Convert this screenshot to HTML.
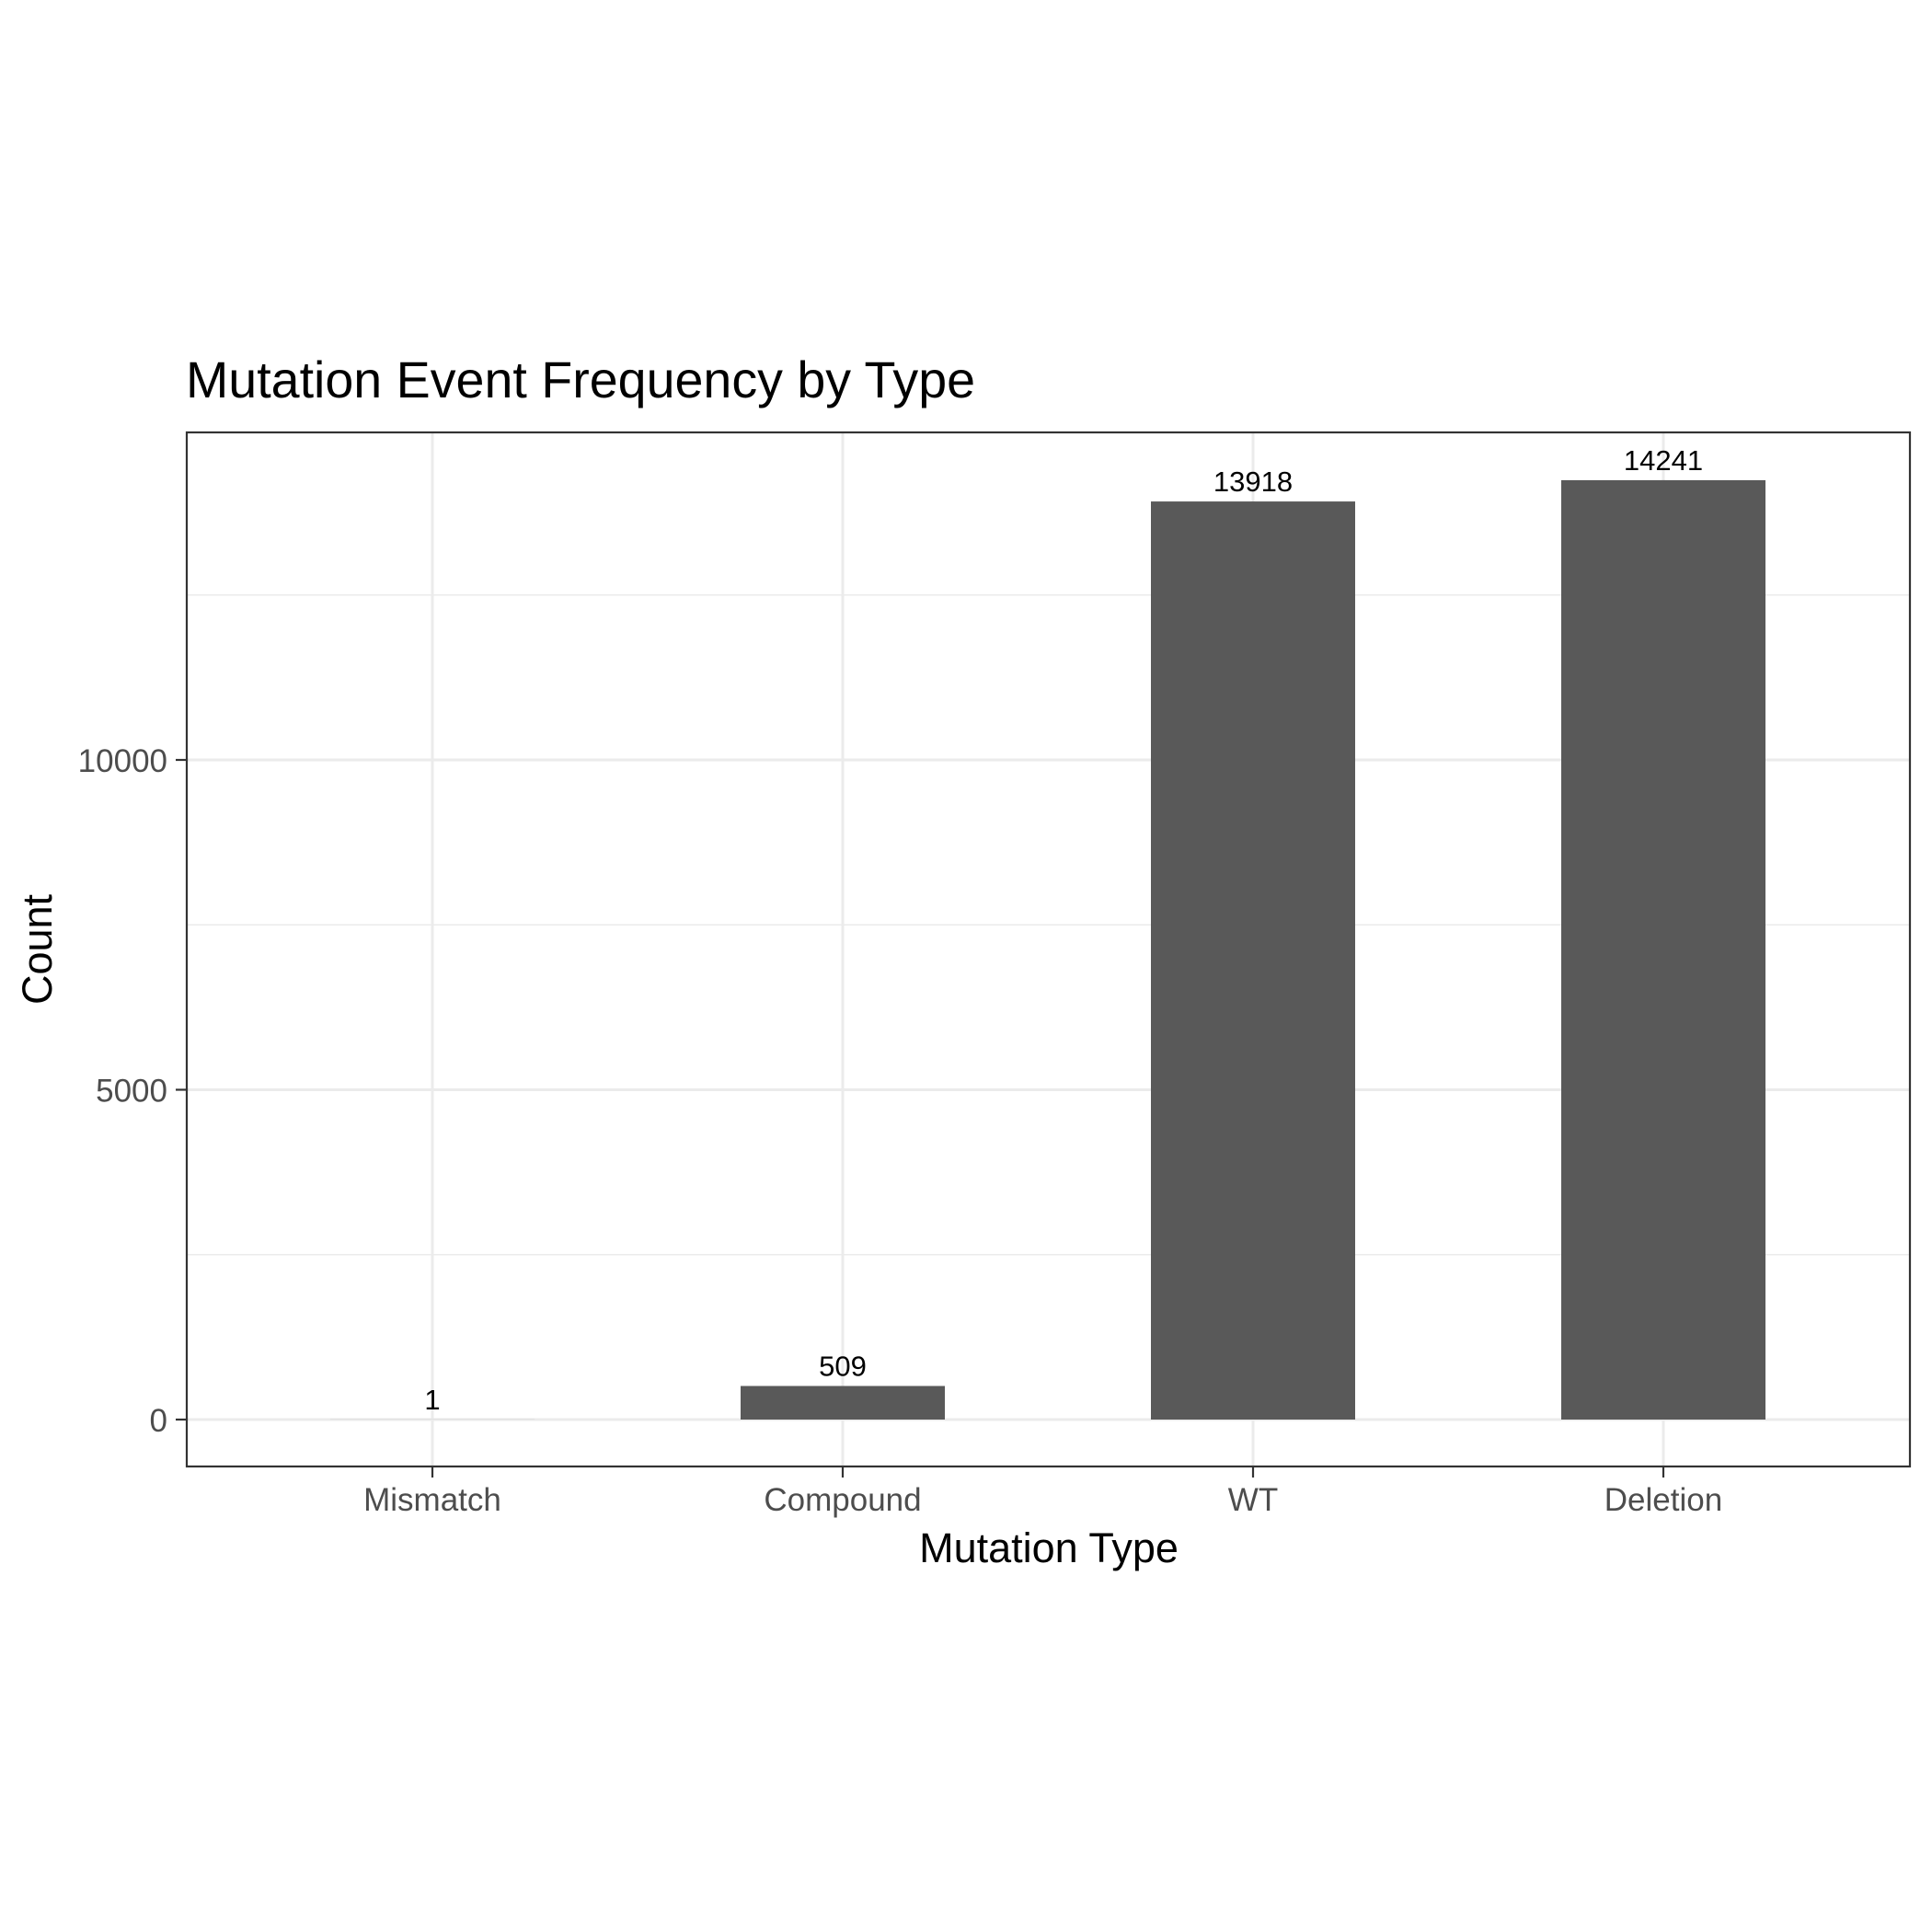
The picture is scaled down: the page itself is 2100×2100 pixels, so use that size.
<!DOCTYPE html>
<html><head><meta charset="utf-8"><style>
html,body{margin:0;padding:0;background:#fff;}
svg{display:block;font-family:"Liberation Sans",sans-serif;}
</style></head><body>
<svg id="chart" width="2100" height="2100" viewBox="0 0 2100 2100">
<rect x="0" y="0" width="2100" height="2100" fill="#fff"/>
<text x="202" y="432" font-size="55.6" fill="#000">Mutation Event Frequency by Type</text>
<g id="grid"></g>
<g id="bars"></g>
<rect x="203" y="470" width="1873" height="1124" fill="none" stroke="#333" stroke-width="2.2"/>
<g id="axes"></g>
<text x="1140" y="1698" font-size="45" text-anchor="middle" fill="#000">Mutation Type</text>
<text transform="translate(56,1032) rotate(-90)" font-size="45" text-anchor="middle" fill="#000">Count</text>
</svg>
<script>
const categories = ["Mismatch","Compound","WT","Deletion"];
const counts = [1, 509, 13918, 14241];
const majorTicks = [0, 5000, 10000];
const minorTicks = [2500, 7500, 12500];

const NS = "http://www.w3.org/2000/svg";
const plotL = 203, plotR = 2076, plotT = 470, plotB = 1594;
const yScale = v => 1543 - v * 0.0717;
const xScale = i => 470 + i * 446;
const barW = 222;

function mk(tag, attrs, parent, text) {
  const e = document.createElementNS(NS, tag);
  for (const k in attrs) e.setAttribute(k, attrs[k]);
  if (text !== undefined) e.textContent = text;
  parent.appendChild(e);
  return e;
}
const grid = document.getElementById("grid");
const bars = document.getElementById("bars");
const axes = document.getElementById("axes");

minorTicks.forEach(t => {
  const l = mk("line", {x1: plotL, x2: plotR, y1: yScale(t), y2: yScale(t), stroke: "#ebebeb", "stroke-width": 1.5}, grid);
  
  
});
majorTicks.forEach(t => {
  const l = mk("line", {x1: plotL, x2: plotR, y1: yScale(t), y2: yScale(t), stroke: "#ebebeb", "stroke-width": 3}, grid);
  
  
  const tk = mk("line", {x1: 191, x2: 203, y1: yScale(t), y2: yScale(t), stroke: "#333", "stroke-width": 2.2}, axes);
  
  
  const tx = mk("text", {x: 182, y: yScale(t) + 13, "font-size": 35, "text-anchor": "end", fill: "#4d4d4d"}, axes, String(t));
  
  
});
categories.forEach((c, i) => {
  const x = xScale(i);
  const g = mk("line", {x1: x, x2: x, y1: plotT, y2: plotB, stroke: "#ebebeb", "stroke-width": 3}, grid);
  
  
  const y = yScale(counts[i]);
  const r = mk("rect", {x: x - barW / 2, y: y, width: barW, height: Math.max(0, yScale(0) - y), fill: "#595959"}, bars);
  
  
  const lb = mk("text", {x: x, y: y - 11, "font-size": 31, "text-anchor": "middle", fill: "#000"}, bars, String(counts[i]));
  
  
  const tk = mk("line", {x1: x, x2: x, y1: plotB, y2: plotB + 12, stroke: "#333", "stroke-width": 2.2}, axes);
  
  
  const tx = mk("text", {x: x, y: 1642, "font-size": 35, "text-anchor": "middle", fill: "#4d4d4d"}, axes, c);
  
  
});
</script>
</body></html>
